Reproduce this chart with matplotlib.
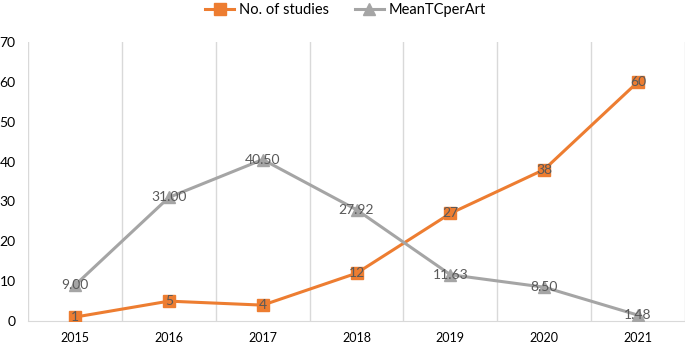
import matplotlib

matplotlib.use("Agg")
import matplotlib.pyplot as plt
import numpy as np

years = ["2015", "2016", "2017", "2018", "2019", "2020", "2021"]
studies = [1, 5, 4, 12, 27, 38, 60]
mean_tc = [9.00, 31.00, 40.50, 27.92, 11.63, 8.50, 1.48]

ORANGE = "#ED7D31"
GRAY = "#A5A5A5"
LABEL = "#595959"
GRID = "#D9D9D9"

plt.rcParams["font.family"] = ["Lato", "DejaVu Sans"]

fig = plt.figure(figsize=(6.85, 3.46), dpi=100)
ax = fig.add_axes([0.041, 0.072, 0.959, 0.807])

x = np.arange(len(years))
ax.plot(x, studies, color=ORANGE, linewidth=2.2, marker="s", markersize=8,
        label="No. of studies", zorder=3)
ax.plot(x, mean_tc, color=GRAY, linewidth=2.2, marker="^", markersize=8,
        label="MeanTCperArt", zorder=3)

# data labels sit right on the markers, as in the source chart
for xi, v in zip(x, studies):
    ax.text(xi, v, f"{v}", ha="center", va="center", fontsize=10,
            color=LABEL, zorder=4)
for xi, v in zip(x, mean_tc):
    ax.text(xi, v, f"{v:.2f}", ha="center", va="center", fontsize=10,
            color=LABEL, zorder=4)

ax.set_xlim(-0.5, 6.5)
ax.set_ylim(0, 70)
ax.set_yticks(range(0, 71, 10))
ax.set_xticks(x)
ax.set_xticklabels(years)
ax.set_xticks(np.arange(-0.5, 7, 1), minor=True)
ax.grid(axis="x", which="minor", color=GRID, linewidth=1)
ax.tick_params(which="both", length=0)
ax.tick_params(axis="x", labelsize=9, pad=8)
ax.tick_params(axis="y", labelsize=10, pad=9)
for s in ["top", "right", "left"]:
    ax.spines[s].set_visible(False)
ax.spines["bottom"].set_color(GRID)

ax.legend(loc="center", bbox_to_anchor=(0.483, 1.115), ncol=2,
          frameon=False, fontsize=10.5, handlelength=2.0, handletextpad=0.3,
          columnspacing=1.8)

fig.savefig("out.png", dpi=100)
